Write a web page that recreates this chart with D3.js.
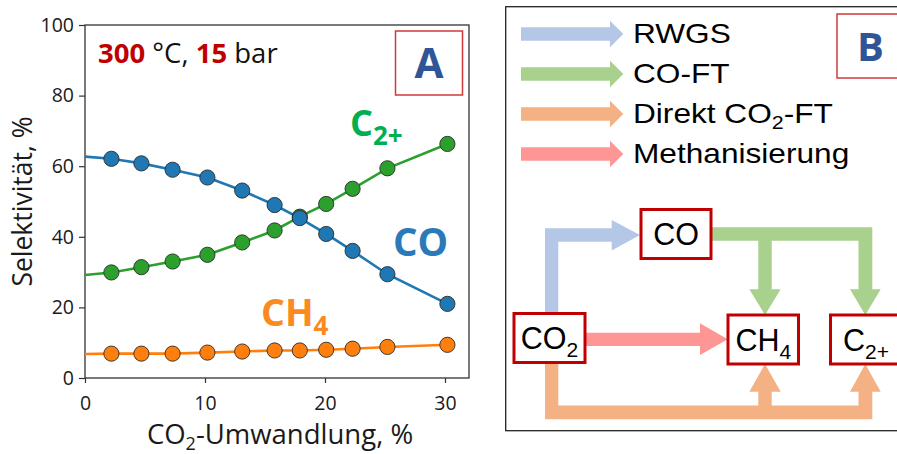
<!DOCTYPE html>
<html>
<head>
<meta charset="utf-8">
<script src="https://cdn.jsdelivr.net/npm/d3@7"></script>
<style>
  html, body { margin: 0; padding: 0; background: #fff; }
  svg { display: block; }
</style>
</head>
<body>
<svg id="fig" width="897" height="454"></svg>
<script>
// ---- Selectivity data (300 °C, 15 bar) ----
const conversion = [2.2, 4.7, 7.3, 10.2, 13.1, 15.8, 17.9, 20.1, 22.3, 25.2, 30.2];
const selCO  = [62.1, 60.8, 59.0, 56.8, 53.1, 49.0, 45.3, 40.8, 36.0, 29.4, 21.0];
const selC2  = [29.9, 31.4, 33.0, 34.9, 38.4, 41.8, 45.7, 49.3, 53.6, 59.4, 66.3];
const selCH4 = [6.9, 6.9, 6.9, 7.2, 7.5, 7.8, 7.8, 8.0, 8.3, 8.8, 9.4];
// values of the trend lines at zero conversion
const startCO = 62.7, startC2 = 29.2, startCH4 = 6.8;
const xTicks = [0, 10, 20, 30];
const yTicks = [0, 20, 40, 60, 80, 100];

// ---- Reaction-path legend ----
const pathways = ["RWGS", "CO-FT", "Direkt CO₂-FT", "Methanisierung"];
const pathColors = ["#b4c7e7", "#a9d18e", "#f4b183", "#ff9696"];

const svg = d3.select("#fig");
const tickFont = "'Open Sans', 'Noto Sans', sans-serif";

// ================= Panel A =================
const x = d3.scaleLinear().domain([0, 32]).range([85, 469]);
const y = d3.scaleLinear().domain([0, 100]).range([378, 25]);

const gA = svg.append("g");

const yAxis = gA.append("g").attr("transform", `translate(${x(0)},0)`)
  .call(d3.axisLeft(y).tickValues(yTicks).tickSize(6).tickPadding(5));
const xAxis = gA.append("g").attr("transform", `translate(0,${y(0)})`)
  .call(d3.axisBottom(x).tickValues(xTicks).tickSize(5).tickPadding(13));
[yAxis, xAxis].forEach(a => {
  a.select(".domain").remove();
  a.selectAll("line").attr("stroke", "#333").attr("stroke-width", 1.2);
  a.selectAll("text").attr("font-family", tickFont).attr("font-size", 19.5).attr("fill", "#1a1a1a");
});

gA.append("rect")
  .attr("x", x(0)).attr("y", y(100))
  .attr("width", x(32) - x(0)).attr("height", y(0) - y(100))
  .attr("fill", "none").attr("stroke", "#333").attr("stroke-width", 1.3);

const series = [
  { vals: selC2,  start: startC2,  color: "#2ca02c" },
  { vals: selCH4, start: startCH4, color: "#ff7f0e" },
  { vals: selCO,  start: startCO,  color: "#1f77b4" }
];
const line = d3.line().x(d => x(d[0])).y(d => y(d[1]));
series.forEach(s => {
  const pts = [[0, s.start]].concat(conversion.map((c, i) => [c, s.vals[i]]));
  gA.append("path").attr("d", line(pts))
    .attr("fill", "none").attr("stroke", s.color).attr("stroke-width", 2.6);
});
series.forEach(s => {
  gA.selectAll(null).data(conversion.map((c, i) => [c, s.vals[i]])).join("circle")
    .attr("cx", d => x(d[0])).attr("cy", d => y(d[1])).attr("r", 7.6)
    .attr("fill", s.color).attr("stroke", "#2b2b2b").attr("stroke-width", 0.9);
});

// axis titles
gA.append("text")
  .attr("transform", `translate(32,${(y(0) + y(100)) / 2}) rotate(-90)`)
  .attr("text-anchor", "middle")
  .attr("font-family", tickFont).attr("font-size", 26.5).attr("fill", "#1a1a1a")
  .text("Selektivität, %");
const xt = gA.append("text")
  .attr("x", 280).attr("y", 444).attr("text-anchor", "middle")
  .attr("font-family", tickFont).attr("font-size", 27.5).attr("fill", "#1a1a1a");
xt.append("tspan").text("CO");
xt.append("tspan").attr("font-size", 18).attr("dy", 6).text("2");
xt.append("tspan").attr("dy", -6).text("-Umwandlung, %");

// condition annotation
const cond = gA.append("text").attr("x", 98).attr("y", 62.5)
  .attr("font-family", tickFont).attr("font-size", 27.5).attr("fill", "#111");
cond.append("tspan").attr("font-weight", "bold").attr("fill", "#c00000").text("300");
cond.append("tspan").text(" °C, ");
cond.append("tspan").attr("font-weight", "bold").attr("fill", "#c00000").text("15");
cond.append("tspan").text(" bar");

// panel tag A
gA.append("rect").attr("x", 395.5).attr("y", 31).attr("width", 67).attr("height", 64)
  .attr("fill", "none").attr("stroke", "#d03a3a").attr("stroke-width", 1.5);
gA.append("text").attr("x", 429).attr("y", 77.5).attr("text-anchor", "middle")
  .attr("font-family", tickFont).attr("font-weight", "bold").attr("font-size", 42)
  .attr("fill", "#2f5597").text("A");

// series labels
function chemLabel(g, px, py, main, sub, color, size) {
  const t = g.append("text").attr("x", px).attr("y", py)
    .attr("font-family", tickFont).attr("font-weight", "bold").attr("font-size", size)
    .attr("fill", color);
  t.append("tspan").text(main);
  if (sub) t.append("tspan").attr("font-size", 26).attr("dy", 9).text(sub);
}
chemLabel(gA, 350, 136, "C", "2+", "#00b050", 36);
chemLabel(gA, 393, 255.5, "CO", null, "#2a7ab9", 38.5);
chemLabel(gA, 261, 325.5, "CH", "4", "#fb8a1f", 37.5);

// ================= Panel B =================
const gB = svg.append("g");
gB.append("rect").attr("x", 505.7).attr("y", 6.7).attr("width", 420).attr("height", 424)
  .attr("fill", "none").attr("stroke", "#222").attr("stroke-width", 1.3);

// legend arrows
const arrowFont = "'Liberation Sans', Arial, sans-serif";
pathways.forEach((name, i) => {
  const cy = 34 + i * 40;
  const p = [[521, cy - 6.7], [610, cy - 6.7], [610, cy - 13.3], [623.3, cy],
             [610, cy + 13.3], [610, cy + 6.7], [521, cy + 6.7]];
  gB.append("polygon").attr("points", p.map(d => d.join(",")).join(" "))
    .attr("fill", pathColors[i]);
  const t = gB.append("text")
    .attr("transform", `translate(633,${cy + 8.7}) scale(1.13,1)`)
    .attr("font-family", arrowFont).attr("font-size", 28).attr("fill", "#000");
  if (name.includes("₂")) {
    t.append("tspan").text("Direkt CO");
    t.append("tspan").attr("font-size", 19).attr("dy", 6).text("2");
    t.append("tspan").attr("dy", -6).text("-FT");
  } else {
    t.text(name);
  }
});

// panel tag B
gB.append("rect").attr("x", 837).attr("y", 14).attr("width", 68).attr("height", 64)
  .attr("fill", "none").attr("stroke", "#d03a3a").attr("stroke-width", 1.5);
gB.append("text").attr("x", 870.5).attr("y", 60.5).attr("text-anchor", "middle")
  .attr("font-family", tickFont).attr("font-weight", "bold").attr("font-size", 40)
  .attr("fill", "#2f5597").text("B");

// reaction network arrows
const poly = (pts, color) => gB.append("polygon")
  .attr("points", pts.map(d => d.join(",")).join(" ")).attr("fill", color);

// RWGS: CO2 -> CO
poly([[545, 313.3], [545, 228.3], [611.7, 228.3], [611.7, 220], [640, 235],
      [611.7, 250.5], [611.7, 241.7], [558.3, 241.7], [558.3, 313.3]], pathColors[0]);
// CO-FT: CO -> CH4, C2+
poly([[710.7, 227.3], [872.3, 227.3], [872.3, 289.3], [880.7, 289.3], [865.3, 315],
      [850, 289.3], [858.5, 289.3], [858.5, 240.7], [771.7, 240.7], [771.7, 289.3],
      [780.7, 289.3], [765, 315], [749.3, 289.3], [758.3, 289.3], [758.3, 240.7],
      [710.7, 240.7]], pathColors[1]);
// Direct CO2-FT: CO2 -> CH4, C2+
poly([[545, 362.3], [545, 419.3], [872.3, 419.3], [872.3, 391.7], [880.7, 391.7],
      [865.3, 364], [850, 391.7], [858.5, 391.7], [858.5, 405.5], [771.7, 405.5],
      [771.7, 391.7], [780.7, 391.7], [765, 364], [749.3, 391.7], [758.3, 391.7],
      [758.3, 405.5], [558.3, 405.5], [558.3, 362.3]], pathColors[2]);
// Methanation: CO2 -> CH4
poly([[585, 332.7], [700, 332.7], [700, 323.3], [727.7, 339.3], [700, 355],
      [700, 346], [585, 346]], pathColors[3]);

// species nodes
const nodes = [
  { x: 641, y: 209.5, w: 70, h: 49, main: "CO", sub: null },
  { x: 514, y: 313.5, w: 71, h: 49, main: "CO", sub: "2" },
  { x: 728, y: 315, w: 70.5, h: 49, main: "CH", sub: "4" },
  { x: 830.5, y: 315, w: 71, h: 49, main: "C", sub: "2+" }
];
nodes.forEach(n => {
  gB.append("rect").attr("x", n.x).attr("y", n.y).attr("width", n.w).attr("height", n.h)
    .attr("fill", "#fff").attr("stroke", "#c00000").attr("stroke-width", 3);
  const t = gB.append("text")
    .attr("x", n.x + n.w / 2).attr("y", n.y + 35.5)
    .attr("text-anchor", "middle")
    .attr("font-family", arrowFont).attr("font-size", 30.5).attr("fill", "#000");
  t.append("tspan").text(n.main);
  if (n.sub) t.append("tspan").attr("font-size", 21).attr("dy", 8).text(n.sub);
});
</script>
</body>
</html>
